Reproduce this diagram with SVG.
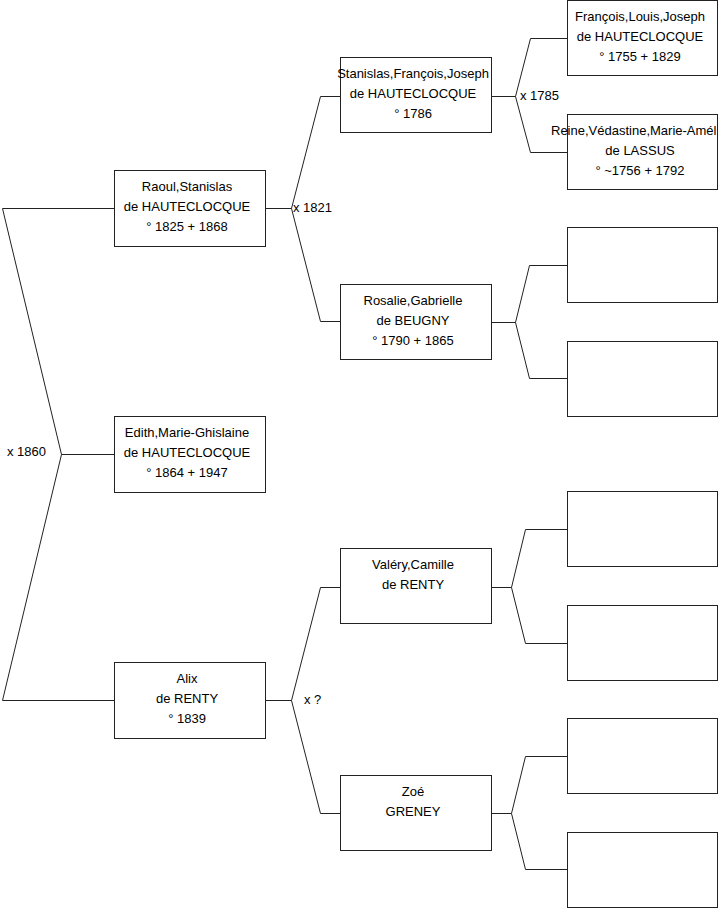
<svg xmlns="http://www.w3.org/2000/svg" width="719" height="908" viewBox="0 0 719 908">
<style>
.box{fill:#fff;stroke:#222;stroke-width:1}
.c{fill:none;stroke:#222;stroke-width:1}
text{font-family:"Liberation Sans",Arial,sans-serif;font-size:13px;fill:#000}
.m{text-anchor:middle}
</style>
<rect x="0" y="0" width="719" height="908" fill="#fff"/>
<g id="connectors">
<path class="c" d="M114,208.5 H2.5 L61.5,454.5 L2.5,700.5 H114 M61.5,454.5 H114"/>
<path class="c" d="M265,208.5 H291.5 M340,96.5 H320.5 L291.5,208.5 L320.5,321.5 H340"/>
<path class="c" d="M492,96.5 H515.5 M567,38.5 H530.5 L515.5,96.5 L530.5,152.5 H567"/>
<path class="c" d="M492,322.5 H515.5 M567,265.5 H529.5 L515.5,322.5 L529.5,378.5 H567"/>
<path class="c" d="M265,700.5 H291.5 M340,587.5 H320.5 L291.5,700.5 L320.5,813.5 H340"/>
<path class="c" d="M492,587.5 H511.5 M567,529.5 H525.5 L511.5,587.5 L525.5,643.5 H567"/>
<path class="c" d="M492,813.5 H511.5 M567,756.5 H525.5 L511.5,813.5 L525.5,869.5 H567"/>
<text x="7" y="456">x 1860</text>
<text x="293" y="212">x 1821</text>
<text x="520" y="100">x 1785</text>
<text x="304" y="704">x ?</text>
</g>
<g id="raoul">
<rect class="box" x="114.5" y="170.5" width="151" height="76"/>
<text class="m" x="187" y="191">Raoul,Stanislas</text>
<text class="m" x="187" y="211">de HAUTECLOCQUE</text>
<text class="m" x="187" y="231">° 1825 + 1868</text>
</g>
<g id="edith">
<rect class="box" x="114.5" y="416.5" width="151" height="76"/>
<text class="m" x="187" y="437">Edith,Marie-Ghislaine</text>
<text class="m" x="187" y="457">de HAUTECLOCQUE</text>
<text class="m" x="187" y="477">° 1864 + 1947</text>
</g>
<g id="alix">
<rect class="box" x="114.5" y="662.5" width="151" height="76"/>
<text class="m" x="187" y="683">Alix</text>
<text class="m" x="187" y="703">de RENTY</text>
<text class="m" x="187" y="723">° 1839</text>
</g>
<g id="stanislas">
<rect class="box" x="340.5" y="57.5" width="151" height="75"/>
<text class="m" x="413" y="78">Stanislas,François,Joseph</text>
<text class="m" x="413" y="98">de HAUTECLOCQUE</text>
<text class="m" x="413" y="118">° 1786</text>
</g>
<g id="rosalie">
<rect class="box" x="340.5" y="284.5" width="151" height="75"/>
<text class="m" x="413" y="305">Rosalie,Gabrielle</text>
<text class="m" x="413" y="325">de BEUGNY</text>
<text class="m" x="413" y="345">° 1790 + 1865</text>
</g>
<g id="valery">
<rect class="box" x="340.5" y="548.5" width="151" height="75"/>
<text class="m" x="413" y="569">Valéry,Camille</text>
<text class="m" x="413" y="589">de RENTY</text>
</g>
<g id="zoe">
<rect class="box" x="340.5" y="775.5" width="151" height="75"/>
<text class="m" x="413" y="796">Zoé</text>
<text class="m" x="413" y="816">GRENEY</text>
</g>
<g id="francois">
<rect class="box" x="567.5" y="0.5" width="150" height="75"/>
<text class="m" x="640" y="21">François,Louis,Joseph</text>
<text class="m" x="640" y="41">de HAUTECLOCQUE</text>
<text class="m" x="640" y="61">° 1755 + 1829</text>
</g>
<g id="reine">
<rect class="box" x="567.5" y="114.5" width="150" height="75"/>
<text x="551" y="135">Reine,Védastine,Marie-Amél</text>
<text class="m" x="640" y="155">de LASSUS</text>
<text class="m" x="640" y="175">° ~1756 + 1792</text>
</g>
<g id="empty1"><rect class="box" x="567.5" y="227.5" width="150" height="75"/></g>
<g id="empty2"><rect class="box" x="567.5" y="341.5" width="150" height="75"/></g>
<g id="empty3"><rect class="box" x="567.5" y="491.5" width="150" height="75"/></g>
<g id="empty4"><rect class="box" x="567.5" y="605.5" width="150" height="75"/></g>
<g id="empty5"><rect class="box" x="567.5" y="718.5" width="150" height="75"/></g>
<g id="empty6"><rect class="box" x="567.5" y="832.5" width="150" height="75"/></g>
</svg>
